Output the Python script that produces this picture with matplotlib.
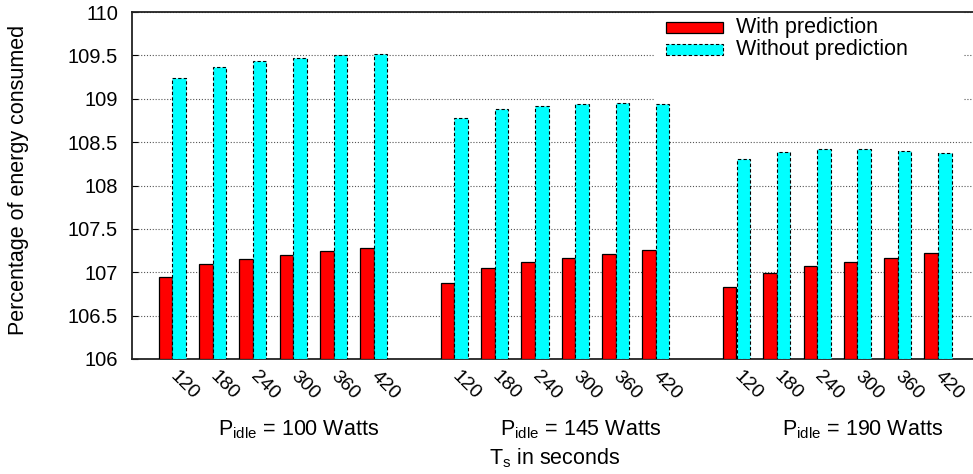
import matplotlib
matplotlib.use("Agg")
import matplotlib.pyplot as plt
import matplotlib.transforms as mtransforms
from matplotlib.patches import Rectangle
import numpy as np

plt.rcParams['font.family'] = ['Liberation Sans', 'DejaVu Sans']
plt.rcParams['mathtext.fontset'] = 'custom'
plt.rcParams['mathtext.rm'] = 'Liberation Sans'
plt.rcParams['mathtext.it'] = 'Liberation Sans:italic'
plt.rcParams['mathtext.bf'] = 'Liberation Sans:bold'

# Sampling periods T_s (seconds) and idle-power settings
ts_labels = ["120", "180", "240", "300", "360", "420"]
p_idle = [100, 145, 190]

# Percentage of energy consumed, one list per P_idle group
with_pred = [
    [106.945, 107.09, 107.15, 107.20, 107.245, 107.28],
    [106.88, 107.05, 107.115, 107.16, 107.21, 107.255],
    [106.83, 106.99, 107.07, 107.12, 107.17, 107.22],
]
without_pred = [
    [109.235, 109.37, 109.43, 109.47, 109.50, 109.52],
    [108.775, 108.88, 108.92, 108.945, 108.95, 108.945],
    [108.31, 108.39, 108.415, 108.42, 108.40, 108.38],
]

W, H = 973, 474
fig = plt.figure(figsize=(W / 100, H / 100), dpi=100)
ax = fig.add_axes([132 / W, 1 - 359 / H, 846.3 / W, 347 / H])

n = len(ts_labels)
gap = 1  # empty slot between groups
bw = 0.335
red = "#ff0000"
cyan = "#00ffff"

xticks, xlabels, group_centres = [], [], []
for g in range(len(p_idle)):
    x = np.arange(n) + g * (n + gap)
    ax.bar(x - bw / 2, np.array(with_pred[g]) - 106, bw, bottom=106,
           color=red, edgecolor="black", linewidth=0.9, zorder=3)
    ax.bar(x + bw / 2, np.array(without_pred[g]) - 106, bw, bottom=106,
           color=cyan, edgecolor="black", linewidth=0.8,
           linestyle=(0, (3, 2)), zorder=3)
    xticks.extend(x)
    xlabels.extend(ts_labels)
    group_centres.append(x.mean())

ax.set_xlim(-1.0, 20.0)
ax.set_ylim(106, 110)
ax.set_yticks(np.arange(106, 110.01, 0.5))
ax.set_yticklabels(["106", "106.5", "107", "107.5", "108", "108.5", "109",
                    "109.5", "110"])
ax.set_xticks(xticks)
ax.set_xticklabels(xlabels, rotation=-45, ha="left", va="center",
                   rotation_mode="anchor", fontsize=14)
ax.tick_params(axis="x", length=0, pad=11)
ax.tick_params(axis="y", direction="in", length=4, width=0.8, pad=10,
               labelsize=14.5, right=False)

for s in ("left", "top", "bottom"):
    ax.spines[s].set_linewidth(1.3)
    ax.spines[s].set_color("#222222")
ax.spines["right"].set_visible(False)

ax.set_axisbelow(True)
ax.yaxis.grid(True, color="#555555", linewidth=0.8, linestyle=(0, (1, 1.6)))

# key box (white background hides the grid behind it)
ax.add_patch(Rectangle((11.95, 108.8), 7.67, 1.2, facecolor="white",
                       edgecolor="none", zorder=2))
ax.add_patch(Rectangle((12.25, 109.754), 1.415, 0.127, facecolor=red,
                       edgecolor="black", linewidth=0.9, zorder=4))
ax.add_patch(Rectangle((12.25, 109.503), 1.415, 0.127, facecolor=cyan,
                       edgecolor="black", linewidth=0.8,
                       linestyle=(0, (3, 2)), zorder=4))
ax.text(14.0, 109.818, "With prediction", fontsize=15.5, va="center",
        ha="left", zorder=5)
ax.text(14.0, 109.567, "Without prediction", fontsize=15.5, va="center",
        ha="left", zorder=5)

# group titles under each cluster
trans = mtransforms.blended_transform_factory(ax.transData, fig.transFigure)
for c, p in zip(group_centres, p_idle):
    ax.text(c + 0.63, 1 - 435 / H, r"P$_{\mathrm{idle}}$ = %d Watts" % p,
            transform=trans, ha="center", va="baseline", fontsize=15.5)

fig.text(554.5 / W, 1 - 464 / H, r"T$_{\mathrm{s}}$ in seconds",
         ha="center", va="baseline", fontsize=15.5)
fig.text(19 / W, 1 - 180 / H, "Percentage of energy consumed",
         rotation=90, ha="center", va="center", fontsize=15.5)

fig.savefig("out.png", dpi=100)
